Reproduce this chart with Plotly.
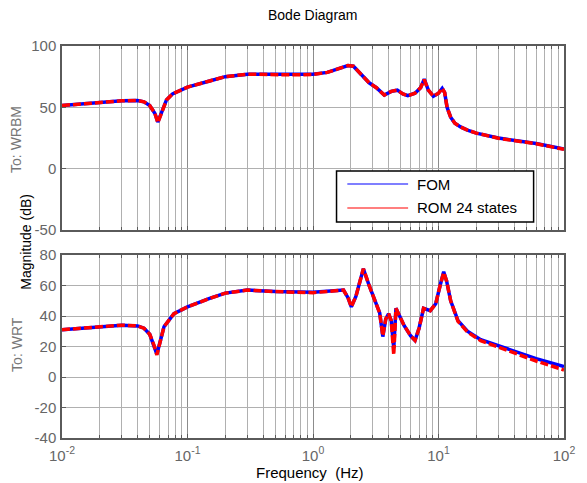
import plotly.graph_objects as go

# ---------------- data ----------------
freq_wrbm = [0.01, 0.015, 0.02, 0.03, 0.04, 0.045, 0.05, 0.055, 0.058, 0.062, 0.068, 0.076,
             0.09, 0.1, 0.15, 0.2, 0.3, 0.5, 0.7, 1.0, 1.3, 1.6, 1.9, 2.1, 2.5, 2.8, 3.2,
             3.7, 4.2, 4.7, 5.2, 5.7, 6.5, 7.2, 7.7, 8.3, 9.1, 10.0, 10.7, 11.2, 11.7,
             12.5, 13.5, 15, 17, 20, 30, 40, 60, 100]
fom_wrbm = [51.5, 53.0, 54.0, 55.3, 55.5, 54.5, 51.5, 45.0, 38.0, 46.0, 56.0, 61.0,
            64.5, 66.5, 71.5, 75.0, 77.0, 77.0, 77.0, 77.0, 78.5, 81.5, 84.0, 83.5, 75.0, 70.0, 66.0,
            60.0, 63.0, 64.0, 61.0, 59.5, 61.5, 66.0, 73.0, 64.0, 59.0, 61.5, 65.5, 62.0, 50.0,
            42.0, 37.0, 34.0, 31.5, 29.0, 25.0, 23.0, 20.5, 16.0]
rom_wrbm = [51.5, 53.0, 54.0, 55.3, 55.5, 54.5, 51.5, 45.0, 37.5, 46.0, 56.0, 61.0,
            64.5, 66.5, 71.5, 75.0, 77.0, 76.6, 76.5, 76.8, 78.5, 81.5, 84.0, 83.5, 75.0, 70.0, 66.0,
            60.0, 63.0, 64.0, 61.0, 59.5, 61.5, 66.0, 72.5, 64.0, 59.0, 61.5, 65.5, 62.0, 50.0,
            42.0, 37.0, 34.0, 31.5, 29.0, 24.8, 22.7, 20.3, 15.8]

freq_wrt = [0.01, 0.02, 0.03, 0.04, 0.045, 0.05, 0.054, 0.057, 0.06, 0.065, 0.078, 0.1,
            0.15, 0.2, 0.3, 0.5, 1.0, 1.5, 1.75, 1.9, 2.02, 2.2, 2.52, 2.8, 3.1, 3.4, 3.6,
            3.8, 4.0, 4.2, 4.4, 4.58, 4.9, 5.3, 6.0, 6.5, 7.0, 7.6, 8.6, 9.5, 10.3, 11.0,
            11.6, 12.5, 14.3, 17, 21.7, 30, 40, 60, 100]
fom_wrt = [31.0, 33.0, 34.0, 33.5, 32.0, 28.0, 21.0, 15.0, 22.0, 33.0, 41.5, 46.0,
           51.5, 55.0, 57.0, 56.0, 55.5, 56.5, 57.0, 52.0, 46.0, 53.0, 71.0, 60.0, 50.0, 42.0, 26.5,
           38.0, 41.5, 37.0, 19.0, 45.0, 40.0, 34.0, 27.0, 24.0, 32.0, 45.0, 43.5, 48.0, 60.0, 69.0,
           63.0, 50.0, 37.0, 30.0, 24.5, 20.5, 16.6, 12.0, 6.8]
rom_wrt = [31.0, 33.0, 34.0, 33.5, 32.0, 28.0, 21.0, 14.5, 22.0, 33.0, 41.5, 46.0,
           51.5, 55.0, 57.0, 56.0, 55.3, 56.5, 57.0, 52.0, 46.0, 53.0, 71.0, 60.0, 50.0, 42.0, 27.0,
           38.0, 41.5, 37.0, 14.5, 45.0, 40.0, 34.0, 27.0, 24.0, 32.0, 45.0, 43.5, 48.0, 60.0, 68.5,
           63.0, 50.0, 36.5, 29.5, 23.8, 19.6, 15.6, 10.5, 4.6]

x_tickvals = [0.01, 0.1, 1, 10, 100]
x_ticktext = ["10<sup>-2</sup>", "10<sup>-1</sup>", "10<sup>0</sup>", "10<sup>1</sup>", "10<sup>2</sup>"]
wrbm_ticks = [100, 50, 0, -50]
wrbm_ticktext = ["100", "50", "0", "-50"]
wrt_ticks = [80, 60, 40, 20, 0, -20, -40]
wrt_ticktext = ["80", "60", "40", "20", "0", "-20", "-40"]
series_names = ["FOM", "ROM 24 states"]

# ---------------- figure ----------------
W, H = 587, 483
L, R, T, B = 62, 13, 46, 45
PH = H - T - B  # 392

def py(pix):
    return (H - B - pix) / PH

def px(pix):
    return (pix - L) / (W - L - R)

minor_vals = [m * 10 ** e for e in range(-2, 2) for m in range(2, 10)]

fig = go.Figure()
blue = "#0000ff"
red = "#ff0000"
LW = 3.5

fig.add_trace(go.Scatter(x=freq_wrbm, y=fom_wrbm, mode="lines", name=series_names[0],
                         line=dict(color=blue, width=LW), xaxis="x2", yaxis="y2", showlegend=False))
fig.add_trace(go.Scatter(x=freq_wrbm, y=rom_wrbm, mode="lines", name=series_names[1],
                         line=dict(color=red, width=LW, dash="8px,3px"), xaxis="x2", yaxis="y2", showlegend=False))
fig.add_trace(go.Scatter(x=freq_wrt, y=fom_wrt, mode="lines", name=series_names[0],
                         line=dict(color=blue, width=LW), xaxis="x", yaxis="y", showlegend=False))
fig.add_trace(go.Scatter(x=freq_wrt, y=rom_wrt, mode="lines", name=series_names[1],
                         line=dict(color=red, width=LW, dash="8px,3px"), xaxis="x", yaxis="y", showlegend=False))

axcol = "#5a5a5a"
gridcol = "#b0b0b0"
tickfont = dict(family="Liberation Sans, Arial, sans-serif", size=15, color="#666666")

xcommon = dict(type="log", range=[-2, 2], showline=True, linecolor=axcol, linewidth=1.5,
               mirror="allticks", ticks="inside", ticklen=4, tickcolor=axcol,
               showgrid=True, gridcolor="#8c8c8c", gridwidth=1, zeroline=False,
               tickvals=x_tickvals, ticktext=x_ticktext, tickfont=tickfont,
               minor=dict(tickvals=minor_vals, showgrid=True, gridcolor=gridcol, gridwidth=1,
                          ticks="inside", ticklen=3, tickcolor=axcol))
ycommon = dict(showline=True, linecolor=axcol, linewidth=1.5, mirror="allticks",
               ticks="inside", ticklen=4, tickcolor=axcol, showgrid=True, gridcolor=gridcol,
               gridwidth=1, zeroline=False, tickfont=tickfont, ticklabelstandoff=1)

top_dom = [py(230), 1.0]
bot_dom = [0.0, py(255)]

fig.update_layout(
    width=W, height=H,
    margin=dict(l=L, r=R, t=T, b=B),
    paper_bgcolor="white", plot_bgcolor="white",
    font=dict(family="Liberation Sans, Arial, sans-serif", color="black"),
    xaxis=dict(**xcommon, domain=[0, 1], anchor="y", ticklabelstandoff=3),
    yaxis=dict(**ycommon, domain=bot_dom, range=[-40, 80], tickvals=wrt_ticks,
               ticktext=wrt_ticktext, anchor="x"),
    xaxis2=dict(**xcommon, domain=[0, 1], anchor="y2", showticklabels=False),
    yaxis2=dict(**ycommon, domain=top_dom, range=[-50, 100], tickvals=wrbm_ticks,
                ticktext=wrbm_ticktext, anchor="x2"),
    showlegend=False,
)

ann = []
ann.append(dict(text="Bode Diagram", x=px(318), y=py(15), xref="paper", yref="paper",
                showarrow=False, font=dict(size=14, color="black"), xanchor="center", yanchor="middle"))
ann.append(dict(text="Frequency  (Hz)", x=px(315), y=py(473), xref="paper", yref="paper",
                showarrow=False, font=dict(size=15, color="black"), xanchor="center", yanchor="middle"))
ann.append(dict(text="Magnitude (dB)", x=px(25), y=py(242), xref="paper", yref="paper", textangle=-90,
                showarrow=False, font=dict(size=14, color="black"), xanchor="center", yanchor="middle"))
ann.append(dict(text="To: WRBM", x=px(15), y=py(139), xref="paper", yref="paper", textangle=-90,
                showarrow=False, font=dict(size=14, color="#777777"), xanchor="center", yanchor="middle"))
ann.append(dict(text="To: WRT", x=px(16), y=py(344), xref="paper", yref="paper", textangle=-90,
                showarrow=False, font=dict(size=14, color="#777777"), xanchor="center", yanchor="middle"))

# manual legend (box, sample lines, labels)
shapes = []
shapes.append(dict(type="rect", xref="paper", yref="paper", x0=px(342), x1=px(543), y0=py(222), y1=py(171),
                   line=dict(color="black", width=1.5), fillcolor="white", layer="above"))
shapes.append(dict(type="line", xref="paper", yref="paper", x0=px(353), x1=px(415), y0=py(184), y1=py(184),
                   line=dict(color=blue, width=1.2), layer="above"))
shapes.append(dict(type="line", xref="paper", yref="paper", x0=px(353), x1=px(415), y0=py(208), y1=py(208),
                   line=dict(color=red, width=1.2), layer="above"))
ann.append(dict(text=series_names[0], x=px(422), y=py(184), xref="paper", yref="paper",
                showarrow=False, font=dict(size=15, color="black"), xanchor="left", yanchor="middle"))
ann.append(dict(text=series_names[1], x=px(422), y=py(208), xref="paper", yref="paper",
                showarrow=False, font=dict(size=15, color="black"), xanchor="left", yanchor="middle"))

fig.update_layout(annotations=ann, shapes=shapes)
fig.write_html("out.html")
